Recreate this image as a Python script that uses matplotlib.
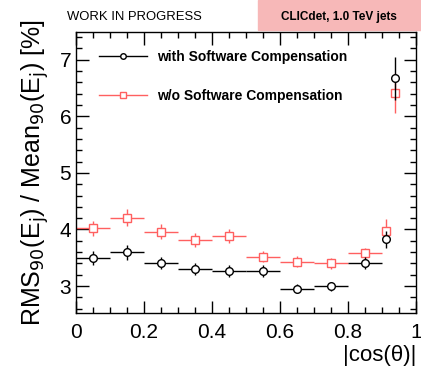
import numpy as np
import matplotlib
matplotlib.use("Agg")
from matplotlib import pyplot as plt
from matplotlib.lines import Line2D
from matplotlib.ticker import MultipleLocator

plt.rcParams['font.family'] = ['Liberation Sans', 'DejaVu Sans']

# |cos(theta)| bin centres and half widths
x = [0.05, 0.15, 0.25, 0.35, 0.45, 0.55, 0.65, 0.75, 0.85, 0.9125, 0.9375]
xerr = [0.05, 0.05, 0.05, 0.05, 0.05, 0.05, 0.05, 0.05, 0.05, 0.0, 0.0]

# RMS90/Mean90 [%] with software compensation
with_sc = [3.50, 3.60, 3.41, 3.30, 3.27, 3.27, 2.95, 3.00, 3.41, 3.83, 6.67]
with_sc_err = [0.12, 0.13, 0.11, 0.10, 0.10, 0.10, 0.08, 0.08, 0.10, 0.15, 0.38]

# without software compensation
wo_sc = [4.02, 4.21, 3.96, 3.81, 3.88, 3.52, 3.43, 3.40, 3.58, 3.98, 6.41]
wo_sc_err = [0.13, 0.15, 0.13, 0.12, 0.12, 0.10, 0.10, 0.09, 0.09, 0.20, 0.35]

fig = plt.figure(figsize=(4.21, 3.70), dpi=100)
ax = fig.add_axes([0.1805, 0.1532, 0.8075, 0.7608])

red = '#ff6060'
ax.errorbar(x, wo_sc, xerr=xerr, yerr=wo_sc_err, fmt='s', color=red,
            mfc='white', mec=red, ms=6, lw=1, mew=1, capsize=0, zorder=2)
ax.errorbar(x, with_sc, xerr=xerr, yerr=with_sc_err, fmt='o', color='black',
            mfc='white', mec='black', ms=5.5, lw=1, mew=1, capsize=0, zorder=3)

ax.set_xlim(0, 1)
ax.set_ylim(2.52, 7.49)
ax.xaxis.set_minor_locator(MultipleLocator(0.05))
ax.yaxis.set_major_locator(MultipleLocator(1))
ax.yaxis.set_minor_locator(MultipleLocator(0.2))
ax.set_xticks([0, 0.2, 0.4, 0.6, 0.8, 1.0])
ax.set_xticklabels(['0', '0.2', '0.4', '0.6', '0.8', '1'])
ax.tick_params(which='both', direction='in', top=True, right=True, labelsize=15)
ax.tick_params(which='major', length=9, width=1)
ax.tick_params(which='minor', length=4.5, width=1)
ax.tick_params(axis='x', pad=7)
for s in ax.spines.values():
    s.set_linewidth(1)

ax.set_xlabel('|cos(θ)|', fontsize=16, loc='right', labelpad=2)
ax.set_ylabel(r'RMS$_{90}$(E$_{\rm j}$) / Mean$_{90}$(E$_{\rm j}$) [%]',
              fontsize=18, labelpad=6)

# legend entries: horizontal line with a small marker
handles = [
    Line2D([], [], color='black', lw=1, marker='o', ms=4, mfc='white', mew=1),
    Line2D([], [], color=red, lw=1, marker='s', ms=5, mfc='white', mew=1),
]
labels = ['with Software Compensation', 'w/o Software Compensation']
ax.legend(handles, labels, loc='upper left', bbox_to_anchor=(0.0676, 0.935),
          frameon=False, borderpad=0, borderaxespad=0,
          prop={'weight': 'bold', 'size': 10}, handlelength=3.45,
          labelspacing=1.8, handletextpad=0.72)

fig.text(0.16, 0.953, 'WORK IN PROGRESS', fontsize=9.4, ha='left', va='center')
fig.patches.append(plt.Rectangle((0.613, 0.918), 0.387, 0.082,
                                 transform=fig.transFigure,
                                 color='#f7b8b8', zorder=0))
fig.text(0.806, 0.955, 'CLICdet, 1.0 TeV jets', fontsize=8.5,
         fontweight='bold', ha='center', va='center')

fig.savefig('out.png', dpi=100)
